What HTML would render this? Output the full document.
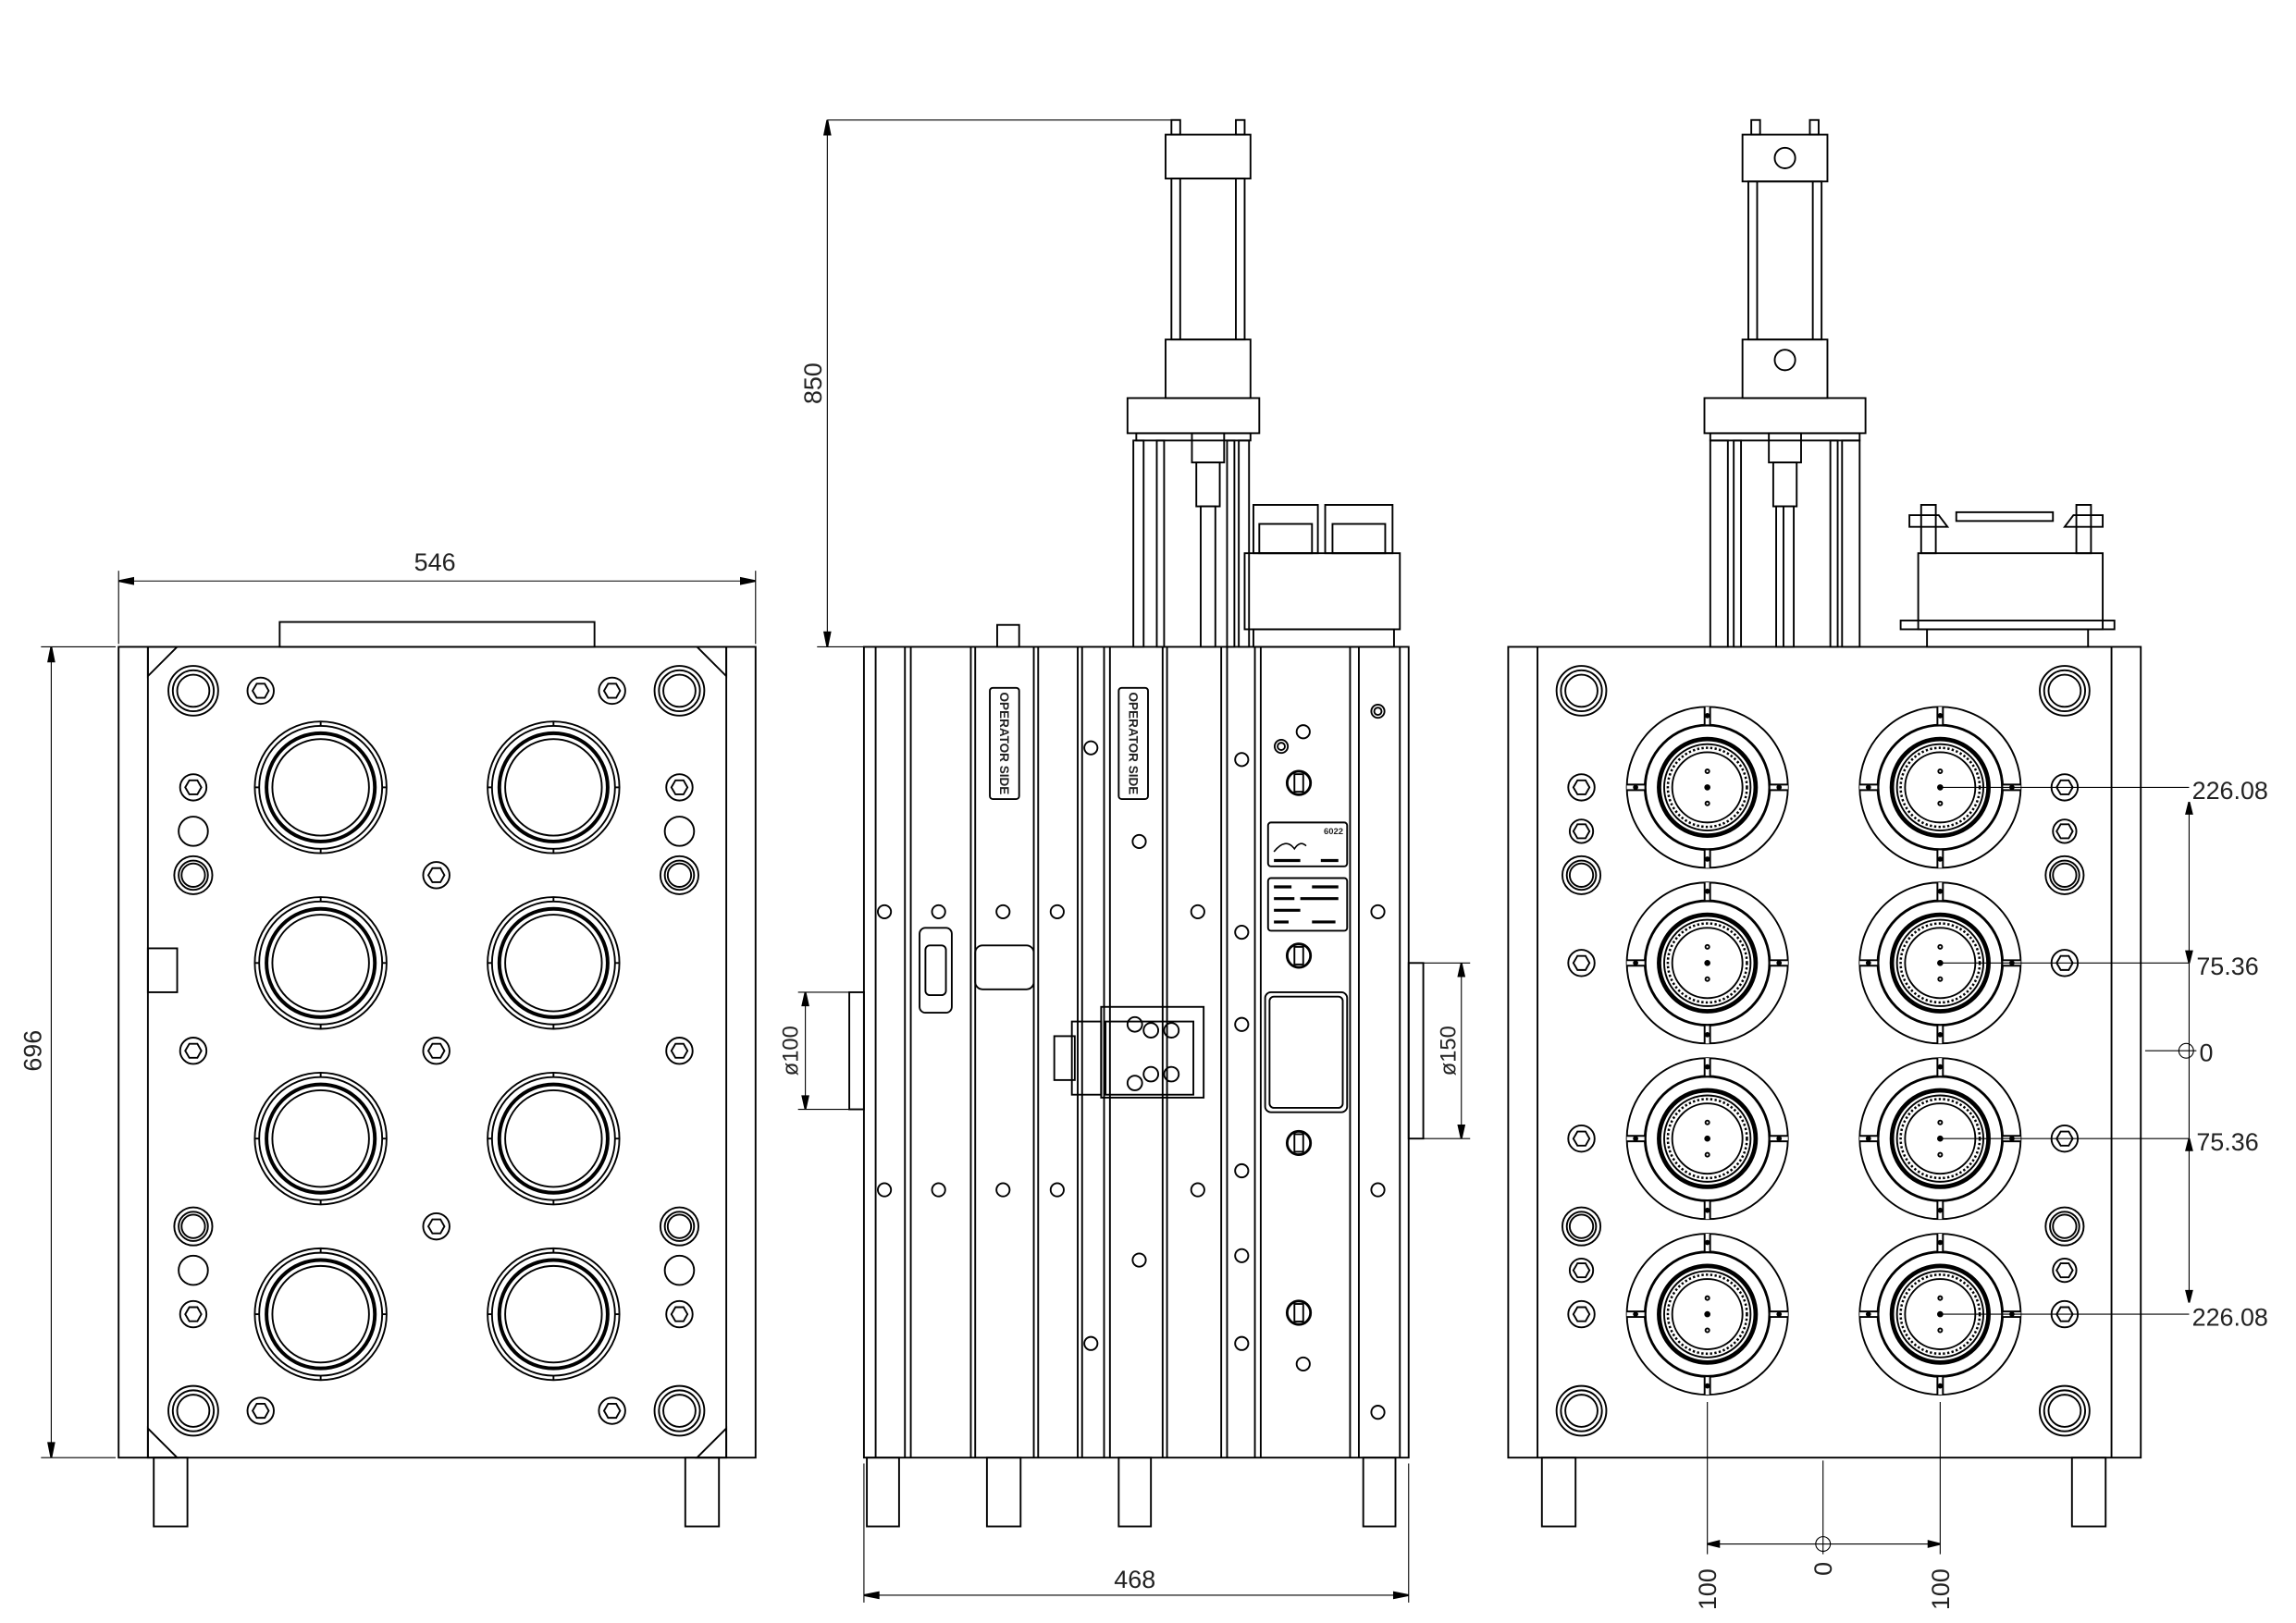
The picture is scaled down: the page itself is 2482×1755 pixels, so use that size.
<!DOCTYPE html>
<html><head><meta charset="utf-8"><style>html,body{margin:0;padding:0;background:#fff}svg{display:block}text{font-family:"Liberation Sans",sans-serif;fill:#222}</style></head>
<body>
<svg id="s" width="2482" height="1755" viewBox="0 0 1568 1109" preserveAspectRatio="none" xmlns="http://www.w3.org/2000/svg" fill="none" stroke="#000" stroke-width="1.2">
<rect x="0" y="0" width="1568" height="1109" fill="#fff" stroke="none"/>
<!-- LEFT VIEW -->
<rect x="81" y="442" width="435" height="554"/>
<line x1="101" y1="442" x2="101" y2="996"/><line x1="496" y1="442" x2="496" y2="996"/>
<rect x="191" y="425" width="215" height="17"/>
<path d="M101 442 L121 442 L101 462Z M496 442 L476 442 L496 462Z M101 996 L121 996 L101 976Z M496 996 L476 996 L496 976Z"/>
<rect x="101" y="648" width="20" height="30"/>
<rect x="105" y="996" width="23" height="47"/><rect x="468" y="996" width="23" height="47"/>
<line x1="81" y1="390" x2="81" y2="440" stroke-width="0.7"/><line x1="516" y1="390" x2="516" y2="440" stroke-width="0.7"/>
<line x1="81" y1="397" x2="516" y2="397" stroke-width="0.7"/>
<path d="M81 397l10-2v4z M516 397l-10-2v4z" fill="#000"/>
<text x="297" y="390" font-size="17" text-anchor="middle" stroke="none">546</text>
<line x1="28" y1="442" x2="79" y2="442" stroke-width="0.7"/><line x1="28" y1="996" x2="79" y2="996" stroke-width="0.7"/>
<line x1="35" y1="442" x2="35" y2="996" stroke-width="0.7"/>
<path d="M35 442l-2 10h4z M35 996l-2-10h4z" fill="#000"/>
<text x="0" y="0" font-size="17" text-anchor="middle" stroke="none" transform="translate(28,718) rotate(-90)">696</text>
<g id="L"></g>
<!-- MIDDLE VIEW -->
<rect x="590" y="442" width="372" height="554"/>
<g id="M"></g>
<rect x="592" y="996" width="22" height="47"/><rect x="674" y="996" width="23" height="47"/><rect x="764" y="996" width="22" height="47"/><rect x="931" y="996" width="22" height="47"/>
<rect x="681" y="427" width="15" height="15"/>
<!-- cylinder -->
<rect x="800" y="82" width="6" height="10"/><rect x="844" y="82" width="6" height="10"/>
<rect x="796" y="92" width="58" height="30"/><rect x="800" y="122" width="50" height="110"/>
<line x1="806" y1="122" x2="806" y2="232"/><line x1="844" y1="122" x2="844" y2="232"/>
<rect x="796" y="232" width="58" height="40"/><rect x="770" y="272" width="90" height="24"/><rect x="776" y="296" width="78" height="5"/>
<rect x="774" y="301" width="7" height="141"/><rect x="846" y="301" width="7" height="141"/>
<rect x="790" y="301" width="5" height="141"/><rect x="838" y="301" width="5" height="141"/>
<rect x="814" y="296" width="22" height="20"/><rect x="817" y="316" width="16" height="30"/><rect x="820" y="346" width="10" height="96"/>
<rect x="850" y="378" width="106" height="52"/><rect x="856" y="345" width="44" height="33"/><rect x="905" y="345" width="46" height="33"/>
<rect x="860" y="358" width="36" height="20"/><rect x="910" y="358" width="36" height="20"/>
<rect x="856" y="430" width="96" height="12"/>
<!-- labels -->
<rect x="676" y="470" width="20" height="76" rx="2"/><rect x="764" y="470" width="20" height="76" rx="2"/>
<text font-size="9" font-weight="bold" stroke="none" textLength="70" lengthAdjust="spacingAndGlyphs" transform="translate(683,473) rotate(90)">OPERATOR  SIDE</text>
<text font-size="9" font-weight="bold" stroke="none" textLength="70" lengthAdjust="spacingAndGlyphs" transform="translate(771,473) rotate(90)">OPERATOR  SIDE</text>
<rect x="866" y="562" width="54" height="30" rx="2"/><rect x="866" y="600" width="54" height="36" rx="2"/>
<text x="904" y="570" font-size="6" stroke="none" font-weight="bold">6022</text>
<path d="M870 582 q8-10 14-2 q4-6 8-2" stroke-width="1"/>
<g stroke="#000" stroke-width="2"><line x1="870" y1="606" x2="882" y2="606"/><line x1="896" y1="606" x2="914" y2="606"/><line x1="870" y1="614" x2="884" y2="614"/><line x1="888" y1="614" x2="914" y2="614"/><line x1="870" y1="622" x2="888" y2="622"/><line x1="870" y1="630" x2="880" y2="630"/><line x1="896" y1="630" x2="912" y2="630"/><line x1="870" y1="588" x2="888" y2="588"/><line x1="902" y1="588" x2="914" y2="588"/></g>
<rect x="864" y="678" width="56" height="82" rx="4"/><rect x="867" y="681" width="50" height="76" rx="3"/>
<!-- clamp -->
<rect x="752" y="688" width="70" height="62"/><rect x="755" y="698" width="60" height="50"/><rect x="732" y="698" width="20" height="50"/><rect x="720" y="708" width="14" height="30"/>
<rect x="628" y="634" width="22" height="58" rx="4"/><rect x="632" y="646" width="14" height="34" rx="3"/>
<rect x="666" y="646" width="40" height="30" rx="5"/>
<!-- dims -->
<line x1="565" y1="82" x2="800" y2="82" stroke-width="0.7"/><line x1="558" y1="442" x2="590" y2="442" stroke-width="0.7"/>
<line x1="565" y1="82" x2="565" y2="442" stroke-width="0.7"/>
<path d="M565 82l-2 10h4z M565 442l-2-10h4z" fill="#000"/>
<text font-size="17" text-anchor="middle" stroke="none" transform="translate(561,262) rotate(-90)">850</text>
<rect x="580" y="678" width="10" height="80"/>
<line x1="545" y1="678" x2="580" y2="678" stroke-width="0.7"/><line x1="545" y1="758" x2="580" y2="758" stroke-width="0.7"/>
<line x1="550" y1="678" x2="550" y2="758" stroke-width="0.7"/><path d="M550 678l-2 9h4z M550 758l-2-9h4z" fill="#000"/>
<text font-size="15" text-anchor="middle" stroke="none" transform="translate(545,718) rotate(-90)">ø100</text>
<rect x="962" y="658" width="10" height="120"/>
<line x1="972" y1="658" x2="1004" y2="658" stroke-width="0.7"/><line x1="972" y1="778" x2="1004" y2="778" stroke-width="0.7"/>
<line x1="998" y1="658" x2="998" y2="778" stroke-width="0.7"/><path d="M998 658l-2 9h4z M998 778l-2-9h4z" fill="#000"/>
<text font-size="15" text-anchor="middle" stroke="none" transform="translate(994,718) rotate(-90)">ø150</text>
<line x1="590" y1="1000" x2="590" y2="1095" stroke-width="0.7"/><line x1="962" y1="1000" x2="962" y2="1095" stroke-width="0.7"/>
<line x1="590" y1="1090" x2="962" y2="1090" stroke-width="0.7"/><path d="M590 1090l10-2v4z M962 1090l-10-2v4z" fill="#000"/>
<text x="775" y="1085" font-size="17" text-anchor="middle" stroke="none">468</text>
<!-- RIGHT VIEW -->
<rect x="1030" y="442" width="432" height="554"/>
<line x1="1050" y1="442" x2="1050" y2="996"/><line x1="1442" y1="442" x2="1442" y2="996"/>
<rect x="1053" y="996" width="23" height="47"/><rect x="1415" y="996" width="23" height="47"/>
<rect x="1196" y="82" width="6" height="10"/><rect x="1236" y="82" width="6" height="10"/>
<rect x="1190" y="92" width="58" height="32"/><circle cx="1219" cy="108" r="7"/>
<rect x="1194" y="124" width="50" height="108"/><line x1="1200" y1="124" x2="1200" y2="232"/><line x1="1238" y1="124" x2="1238" y2="232"/>
<rect x="1190" y="232" width="58" height="40"/><circle cx="1219" cy="246" r="7"/>
<rect x="1164" y="272" width="110" height="24"/><rect x="1168" y="296" width="102" height="5"/>
<rect x="1168" y="301" width="12" height="141"/><rect x="1258" y="301" width="12" height="141"/>
<rect x="1184" y="301" width="5" height="141"/><rect x="1250" y="301" width="5" height="141"/>
<rect x="1208" y="296" width="22" height="20"/><rect x="1211" y="316" width="16" height="30"/><rect x="1213" y="346" width="12" height="96"/>
<line x1="1218" y1="346" x2="1218" y2="442"/>
<rect x="1310" y="378" width="126" height="52"/><rect x="1298" y="424" width="146" height="6"/><rect x="1316" y="430" width="110" height="12"/>
<path d="M1304 352 h20 l6 8 h-26z M1436 352 h-20 l-6 8 h26z"/><rect x="1312" y="345" width="10" height="33"/><rect x="1418" y="345" width="10" height="33"/>
<rect x="1336" y="350" width="66" height="6"/>
<g id="R"></g>
<!-- right dims -->
<g stroke-width="0.7">
<line x1="1325" y1="538" x2="1495" y2="538"/><line x1="1325" y1="658" x2="1495" y2="658"/><line x1="1325" y1="778" x2="1495" y2="778"/><line x1="1325" y1="898" x2="1495" y2="898"/>
<line x1="1465" y1="718" x2="1500" y2="718"/>
<line x1="1495" y1="548" x2="1495" y2="890"/>
<line x1="1166" y1="958" x2="1166" y2="1062"/><line x1="1325" y1="958" x2="1325" y2="1062"/><line x1="1245" y1="998" x2="1245" y2="1062"/>
<line x1="1166" y1="1055" x2="1325" y2="1055"/>
<circle cx="1493" cy="718" r="5"/><circle cx="1245" cy="1055" r="5"/>
</g>
<path d="M1495 548l-2 8h4z M1495 890l-2-8h4z M1495 658l-2-8h4z M1495 778l-2 8h4z M1166 1055l8-2v4z M1325 1055l-8-2v4z" fill="#000"/>
<g font-size="17" stroke="none">
<text x="1497" y="546">226.08</text><text x="1500" y="666">75.36</text><text x="1502" y="725">0</text><text x="1500" y="786">75.36</text><text x="1497" y="906">226.08</text>
<text transform="translate(1172,1086) rotate(-90)" text-anchor="middle">100</text>
<text transform="translate(1251,1072) rotate(-90)" text-anchor="middle">0</text>
<text transform="translate(1331,1086) rotate(-90)" text-anchor="middle">100</text>
</g>
</svg>
<script>
var NS="http://www.w3.org/2000/svg";
function el(g,t,a){var e=document.createElementNS(NS,t);for(var k in a)e.setAttribute(k,a[k]);document.getElementById(g).appendChild(e);return e;}
function c(g,x,y,r,a){a=a||{};a.cx=x;a.cy=y;a.r=r;return el(g,"circle",a);}
function hex(g,x,y,r){var p=[];for(var i=0;i<6;i++){var an=Math.PI/3*i;p.push((x+r*Math.cos(an)).toFixed(1)+","+(y+r*Math.sin(an)).toFixed(1));}el(g,"polygon",{points:p.join(" ")});}
function hexb(g,x,y){c(g,x,y,9);hex(g,x,y,5.5);}
function dbl(g,x,y){c(g,x,y,13);c(g,x,y,10);c(g,x,y,8);}
function corner(g,x,y){c(g,x,y,17);c(g,x,y,14);c(g,x,y,11);}
[[219,538],[378,538],[219,658],[378,658],[219,778],[378,778],[219,898],[378,898]].forEach(function(p){
c("L",p[0],p[1],45);c("L",p[0],p[1],42);c("L",p[0],p[1],37,{"stroke-width":2.5});c("L",p[0],p[1],33);
[0,90,180,270].forEach(function(a){var r=a*Math.PI/180;el("L","line",{x1:p[0]+42*Math.cos(r),y1:p[1]+42*Math.sin(r),x2:p[0]+45*Math.cos(r),y2:p[1]+45*Math.sin(r)});});});
[[132,472],[464,472],[132,964],[464,964]].forEach(function(p){corner("L",p[0],p[1]);});
[[178,472],[418,472],[178,964],[418,964],[132,538],[464,538],[132,718],[464,718],[298,598],[298,718],[298,838],[132,898],[464,898]].forEach(function(p){hexb("L",p[0],p[1]);});
[[132,568],[464,568],[132,868],[464,868]].forEach(function(p){c("L",p[0],p[1],10);});
[[132,598],[464,598],[132,838],[464,838]].forEach(function(p){dbl("L",p[0],p[1]);});
[598,618,622,663,666,706,709,736,739,754,758,794,797,834,838,857,861,922,928,956].forEach(function(x){el("M","line",{x1:x,y1:442,x2:x,y2:996});});
[[604,623],[604,813],[641,623],[641,813],[685,623],[685,813],[722,623],[722,813],[745,511],[745,918],[778,575],[778,861],[818,623],[818,813],[848,519],[848,637],[848,700],[848,800],[848,858],[848,918],[941,623],[941,813],[941,965],[890,500],[890,932]].forEach(function(p){c("M",p[0],p[1],4.5);});
[[941,486],[875,510]].forEach(function(p){c("M",p[0],p[1],4.5);c("M",p[0],p[1],2.5);});
[[887,535],[887,653],[887,781],[887,897]].forEach(function(p){c("M",p[0],p[1],8,{"stroke-width":1.8});el("M","rect",{x:p[0]-3,y:p[1]-6,width:6,height:12});});
[[786,704],[800,704],[786,734],[800,734],[775,700],[775,740]].forEach(function(p){c("M",p[0],p[1],5);});
[[1166,538],[1325,538],[1166,658],[1325,658],[1166,778],[1325,778],[1166,898],[1325,898]].forEach(function(p){
var x=p[0],y=p[1];c("R",x,y,55);c("R",x,y,42.5,{"stroke-width":1.8});c("R",x,y,33,{"stroke-width":3});c("R",x,y,29.5);c("R",x,y,27,{"stroke-width":1.6,"stroke-dasharray":"1.5 1.5"});c("R",x,y,24);
[[0,-1],[0,1],[-1,0],[1,0]].forEach(function(d){var x1=x+d[0]*43,y1=y+d[1]*43,x2=x+d[0]*55,y2=y+d[1]*55;el("R","line",{x1:x1,y1:y1,x2:x2,y2:y2,"stroke-width":5});el("R","line",{x1:x1,y1:y1,x2:x2,y2:y2,stroke:"#fff","stroke-width":2.5});c("R",x+d[0]*49,y+d[1]*49,1.2,{fill:"#000"});});
c("R",x,y-11,1.3);c("R",x,y,1.5,{fill:"#000"});c("R",x,y+11,1.3);});
[[1080,472],[1410,472],[1080,964],[1410,964]].forEach(function(p){corner("R",p[0],p[1]);});
[[1080,538],[1410,538],[1080,658],[1410,658],[1080,778],[1410,778],[1080,898],[1410,898]].forEach(function(p){hexb("R",p[0],p[1]);});
[[1080,568],[1410,568],[1080,868],[1410,868]].forEach(function(p){c("R",p[0],p[1],8);hex("R",p[0],p[1],5.5);});
[[1080,598],[1410,598],[1080,838],[1410,838]].forEach(function(p){dbl("R",p[0],p[1]);});
</script>
</body></html>
